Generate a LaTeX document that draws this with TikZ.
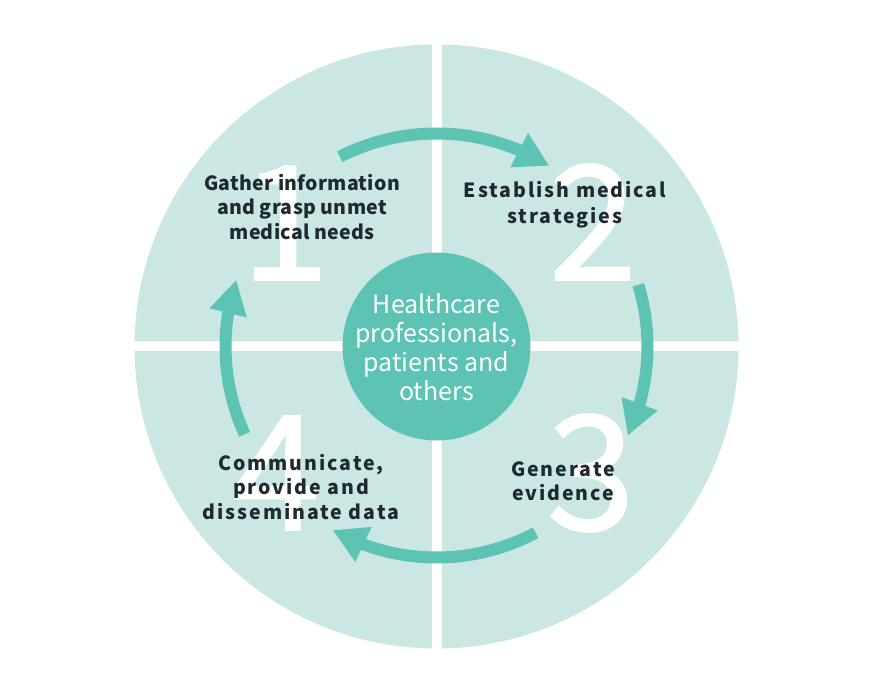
\documentclass[tikz,border=0pt]{standalone}
\usepackage{fontspec}
\usetikzlibrary{arrows.meta,bending}
\newfontfamily\jp{Noto Sans CJK JP}
\newfontfamily\numfont{Noto Sans CJK JP}[FakeBold=1]
\newfontfamily\lblA{Noto Sans CJK JP}[LetterSpace=1.5]
\newfontfamily\lblB{Noto Sans CJK JP}[LetterSpace=10]
\definecolor{quad}{HTML}{CAE7E3}
\definecolor{teal}{HTML}{5CC3B5}
\definecolor{ink}{HTML}{1F2933}
\tikzset{
  cyc/.style={draw=teal, line width=12pt, -{Triangle[length=34pt,width=36pt,flex]}},
  bignum/.style={text=white, font=\numfont\fontsize{160}{160}\selectfont, anchor=base, inner sep=0pt},
  lab/.style={text=ink, align=center, inner sep=0pt},
}
\begin{document}
\begin{tikzpicture}[x=1pt,y=1pt]
\useasboundingbox (0,0) rectangle (875,675);
\coordinate (C) at (436.5,328.5);
\fill[quad] (C) circle (302);
\draw[white, line width=10pt] ([xshift=-310pt]C) -- ([xshift=310pt]C);
\draw[white, line width=10pt] ([yshift=-310pt]C) -- ([yshift=310pt]C);
% big numbers
\node[bignum] (n1) at (285,395) {1};
\node[bignum] (n2) at (593,395) {2};
\node[bignum] (n3) at (591,145) {3};
\node[bignum] (n4) at (276,145) {4};
% cycle arrows
\draw[cyc] ([shift=(117:213)]C) arc[start angle=117, end angle=58, radius=213];
\draw[cyc] ([shift=(17:211)]C) arc[start angle=17, end angle=-25, radius=211];
\draw[cyc] ([shift=(-62:211)]C) arc[start angle=-62, end angle=-119.5, radius=211];
\draw[cyc] ([shift=(204.6:211)]C) arc[start angle=204.6, end angle=161.6, radius=211];
% center
\node[circle, fill=teal, minimum size=188pt, inner sep=0pt] (hub) at (C) {};
\node[text=white, align=center, font=\jp\fontsize{25}{29}\selectfont] (hubtxt) at ([yshift=-1pt]C)
  {Healthcare\\professionals,\\patients and\\others};
% labels
\node[lab, font=\lblA\bfseries\fontsize{19.5}{24.5}\selectfont] (l1) at (302,468)
  {Gather information\\and grasp unmet\\medical needs};
\node[lab, font=\lblB\bfseries\fontsize{19.5}{26}\selectfont] (l2) at (565,470)
  {Establish medical\\strategies};
\node[lab, font=\lblB\bfseries\fontsize{19.5}{24.5}\selectfont] (l3) at (563,194)
  {Generate\\evidence};
\node[lab, font=\lblB\bfseries\fontsize{19.5}{24.5}\selectfont] (l4) at (301,188)
  {Communicate,\\provide and\\disseminate data};
\end{tikzpicture}
\end{document}
